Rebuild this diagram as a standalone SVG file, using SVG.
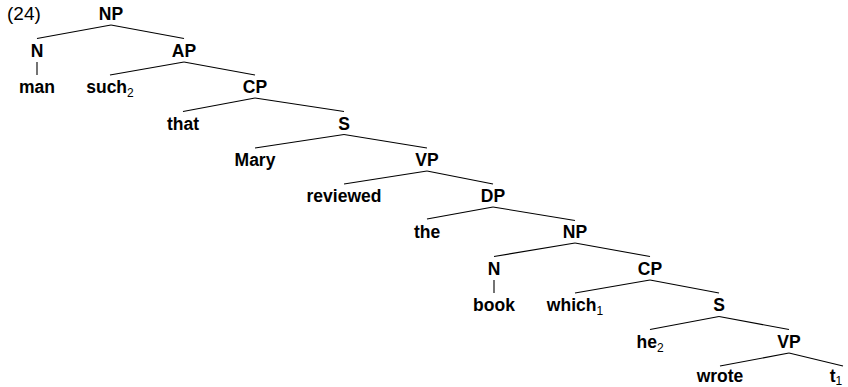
<svg xmlns="http://www.w3.org/2000/svg" width="848" height="387" viewBox="0 0 848 387">
<style>
text{font-family:"Liberation Sans",Arial,sans-serif;font-size:17.5px;font-weight:bold;fill:#000;text-anchor:middle}
.num{font-weight:normal;text-anchor:start;font-size:19px}
.sub{font-size:12px;font-weight:normal}
#edges line{stroke:#000;stroke-width:1.1}
</style>
<rect width="848" height="387" fill="#fff"/>
<text class="num" x="7" y="20">(24)</text>
<g id="edges">
<line x1="111" y1="25" x2="37" y2="38.5"/><line x1="111" y1="25" x2="184" y2="38.5"/>
<line x1="37" y1="62" x2="37" y2="75"/>
<line x1="184" y1="62" x2="110" y2="75"/><line x1="184" y1="62" x2="255" y2="75"/>
<line x1="255" y1="98" x2="183" y2="111.5"/><line x1="255" y1="98" x2="344" y2="111.5"/>
<line x1="344" y1="134.5" x2="255" y2="148"/><line x1="344" y1="134.5" x2="427" y2="148"/>
<line x1="427" y1="171" x2="344" y2="184"/><line x1="427" y1="171" x2="493" y2="184"/>
<line x1="493" y1="207" x2="427" y2="219"/><line x1="493" y1="207" x2="575" y2="220.5"/>
<line x1="575" y1="243" x2="494" y2="256.5"/><line x1="575" y1="243" x2="650" y2="256.5"/>
<line x1="494" y1="280" x2="494" y2="293"/>
<line x1="650" y1="280" x2="575" y2="293"/><line x1="650" y1="280" x2="719" y2="293"/>
<line x1="719" y1="316.5" x2="650" y2="329.5"/><line x1="719" y1="316.5" x2="789" y2="329.5"/>
<line x1="789" y1="353" x2="720" y2="366"/><line x1="789" y1="353" x2="843" y2="366"/>
</g>
<g id="n-NP0"><text x="111" y="20">NP</text></g>
<g id="n-N0"><text x="37" y="56.5">N</text></g>
<g id="n-man"><text x="37" y="93">man</text></g>
<g id="n-AP"><text x="184" y="56.5">AP</text></g>
<g id="n-such"><text x="110" y="93">such<tspan class="sub" dy="4">2</tspan></text></g>
<g id="n-CP0"><text x="255" y="93">CP</text></g>
<g id="n-that"><text x="183" y="129.5">that</text></g>
<g id="n-S0"><text x="344" y="129.5">S</text></g>
<g id="n-Mary"><text x="255" y="166">Mary</text></g>
<g id="n-VP0"><text x="427" y="166">VP</text></g>
<g id="n-reviewed"><text x="344" y="202">reviewed</text></g>
<g id="n-DP"><text x="493" y="202">DP</text></g>
<g id="n-the"><text x="427" y="238">the</text></g>
<g id="n-NP1"><text x="575" y="238">NP</text></g>
<g id="n-N1"><text x="494" y="274.5">N</text></g>
<g id="n-book"><text x="494" y="311">book</text></g>
<g id="n-CP1"><text x="650" y="274.5">CP</text></g>
<g id="n-which"><text x="575" y="311">which<tspan class="sub" dy="4">1</tspan></text></g>
<g id="n-S1"><text x="719" y="311">S</text></g>
<g id="n-he"><text x="650" y="347.5">he<tspan class="sub" dy="4">2</tspan></text></g>
<g id="n-VP1"><text x="789" y="347.5">VP</text></g>
<g id="n-wrote"><text x="720" y="382">wrote</text></g>
<g id="n-t"><text x="836" y="382">t<tspan class="sub" dy="3">1</tspan></text></g>
</svg>
